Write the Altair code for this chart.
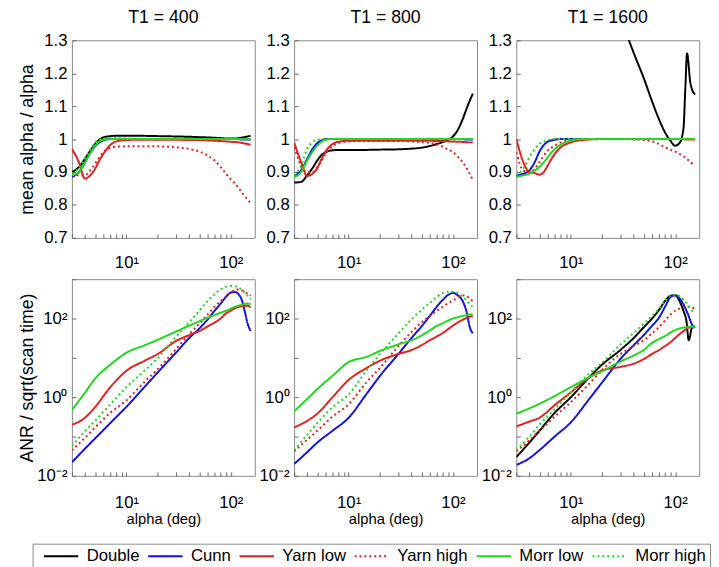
import altair as alt
import pandas as pd

FONT = "Liberation Sans"
SERIES = ["Double", "Cunn", "Yarn low", "Yarn high", "Morr low", "Morr high"]
COLORS = ["#000000", "#1111e6", "#e61e1e", "#e61e1e", "#1ed81e", "#1ed81e"]
DASHES = [[1, 0], [1, 0], [1, 0], [2, 3], [1, 0], [2, 3]]
T1_VALUES = [400, 800, 1600]

ALPHA_TOP = [3, 3.5, 4, 4.5, 5, 5.5, 6, 7, 8, 10, 13, 20, 30, 40, 50, 60, 70, 80, 90, 100, 110, 120, 125, 130, 140, 155]
ALPHA_BOT = [3, 4, 5, 7, 10, 15, 20, 30, 40, 50, 60, 70, 80, 90, 100, 110, 120, 128, 135, 145, 155]

X_TICKS = [3, 4, 5, 6, 7, 8, 9, 10, 20, 30, 40, 50, 60, 70, 80, 90, 100]
Y_TICKS_TOP = [0.7, 0.8, 0.9, 1.0, 1.1, 1.2, 1.3]
Y_TICKS_BOT = [0.01, 0.1, 1, 10, 100, 1000]

# mean alpha / alpha
MEAN_400 = {
    "Double":    [0.900, 0.915, 0.940, 0.965, 0.985, 0.998, 1.005, 1.009, 1.010, 1.010, 1.010, 1.009, 1.008, 1.007, 1.006, 1.005, 1.004, 1.003, 1.002, 1.002, 1.002, 1.003, 1.004, 1.005, 1.007, 1.010],
    "Cunn":      [0.885, 0.900, 0.930, 0.958, 0.978, 0.990, 0.996, 1.000, 1.000, 1.000, 1.000, 1.000, 1.000, 1.000, 1.000, 1.000, 1.000, 1.000, 1.000, 1.000, 1.000, 1.000, 0.999, 0.999, 0.999, 0.998],
    "Yarn low":  [0.970, 0.930, 0.880, 0.890, 0.910, 0.935, 0.955, 0.982, 0.993, 0.997, 0.998, 0.998, 0.998, 0.997, 0.997, 0.996, 0.995, 0.994, 0.993, 0.992, 0.991, 0.990, 0.989, 0.988, 0.986, 0.983],
    "Yarn high": [0.895, 0.890, 0.890, 0.905, 0.925, 0.945, 0.960, 0.973, 0.977, 0.978, 0.978, 0.978, 0.975, 0.970, 0.962, 0.950, 0.935, 0.915, 0.895, 0.878, 0.865, 0.850, 0.843, 0.835, 0.822, 0.806],
    "Morr low":  [0.890, 0.900, 0.928, 0.958, 0.980, 0.993, 0.998, 1.000, 1.000, 1.000, 1.000, 1.000, 1.000, 1.000, 1.000, 1.000, 1.000, 1.000, 1.000, 1.000, 1.000, 1.000, 1.000, 1.000, 1.000, 1.000],
    "Morr high": [0.895, 0.912, 0.940, 0.968, 0.988, 0.997, 1.001, 1.003, 1.003, 1.002, 1.001, 1.000, 1.000, 1.000, 1.000, 1.000, 1.000, 1.000, 1.000, 1.000, 1.000, 1.000, 1.000, 1.000, 1.000, 1.000],
}
MEAN_800 = {
    "Double":    [0.868, 0.870, 0.890, 0.912, 0.935, 0.952, 0.960, 0.966, 0.967, 0.967, 0.967, 0.968, 0.969, 0.971, 0.974, 0.979, 0.985, 0.991, 0.998, 1.008, 1.025, 1.050, 1.063, 1.078, 1.105, 1.138],
    "Cunn":      [0.888, 0.905, 0.940, 0.970, 0.988, 0.996, 1.000, 1.000, 1.000, 1.000, 1.000, 1.000, 1.000, 1.000, 1.000, 1.000, 1.000, 1.000, 1.000, 1.000, 1.000, 1.000, 1.000, 0.999, 0.999, 0.999],
    "Yarn low":  [0.990, 0.930, 0.888, 0.895, 0.912, 0.940, 0.962, 0.985, 0.992, 0.995, 0.995, 0.995, 0.995, 0.995, 0.995, 0.995, 0.994, 0.994, 0.993, 0.993, 0.992, 0.992, 0.991, 0.991, 0.990, 0.990],
    "Yarn high": [0.975, 0.920, 0.900, 0.900, 0.915, 0.935, 0.955, 0.978, 0.988, 0.993, 0.994, 0.994, 0.994, 0.993, 0.991, 0.988, 0.984, 0.977, 0.968, 0.960, 0.948, 0.935, 0.928, 0.920, 0.903, 0.876],
    "Morr low":  [0.885, 0.900, 0.935, 0.962, 0.980, 0.992, 0.998, 1.000, 1.000, 1.000, 1.000, 1.000, 1.000, 1.000, 1.000, 1.000, 1.000, 1.000, 1.000, 1.000, 1.000, 1.000, 1.000, 1.000, 1.000, 1.000],
    "Morr high": [0.890, 0.920, 0.970, 0.990, 0.998, 1.000, 1.000, 1.000, 1.000, 1.000, 1.000, 1.000, 1.000, 1.000, 1.000, 1.000, 1.000, 1.000, 1.000, 1.000, 1.000, 1.000, 1.000, 1.000, 1.000, 1.000],
}
MEAN_1600 = {
    "Double":    [2.600, 2.500, 2.400, 2.300, 2.250, 2.200, 2.150, 2.050, 1.980, 1.850, 1.720, 1.540, 1.370, 1.262, 1.185, 1.115, 1.060, 1.020, 0.995, 0.980, 0.988, 1.030, 1.150, 1.260, 1.170, 1.135],
    "Cunn":      [0.890, 0.895, 0.905, 0.930, 0.962, 0.982, 0.992, 0.998, 1.000, 1.000, 1.000, 1.000, 1.000, 1.000, 1.000, 1.000, 1.000, 1.000, 1.000, 1.000, 1.000, 1.000, 1.000, 1.000, 1.000, 1.000],
    "Yarn low":  [1.000, 0.930, 0.900, 0.897, 0.892, 0.900, 0.920, 0.955, 0.975, 0.990, 0.997, 1.000, 1.000, 1.000, 1.000, 1.000, 1.000, 1.000, 1.000, 1.000, 1.000, 1.000, 0.999, 0.999, 0.999, 0.999],
    "Yarn high": [0.960, 0.905, 0.900, 0.910, 0.930, 0.950, 0.965, 0.980, 0.990, 0.997, 1.000, 1.000, 1.000, 0.999, 0.997, 0.993, 0.985, 0.975, 0.968, 0.962, 0.955, 0.948, 0.944, 0.940, 0.930, 0.920],
    "Morr low":  [0.885, 0.890, 0.895, 0.905, 0.915, 0.930, 0.945, 0.970, 0.983, 0.996, 1.000, 1.000, 1.000, 1.000, 1.000, 1.000, 1.000, 1.000, 1.000, 1.000, 1.000, 1.000, 1.000, 1.000, 1.000, 1.000],
    "Morr high": [0.890, 0.910, 0.945, 0.970, 0.985, 0.993, 0.998, 1.000, 1.000, 1.000, 1.000, 1.000, 1.000, 1.000, 1.000, 1.000, 1.000, 1.000, 1.000, 1.000, 1.000, 1.000, 1.000, 1.000, 1.000, 1.000],
}

# ANR / sqrt(scan time)
ANR_400 = {
    "Cunn":      [0.022, 0.049, 0.089, 0.22, 0.57, 1.86, 4.3, 13.8, 32, 56, 95, 158, 240, 355, 457, 470, 400, 290, 170, 75, 48],
    "Yarn low":  [0.20, 0.30, 0.56, 1.8, 4.7, 8.5, 12.6, 27, 38, 48, 63, 79, 100, 135, 158, 182, 200, 205, 210, 210, 195],
    "Yarn high": [0.044, 0.093, 0.17, 0.40, 0.83, 2.5, 5.2, 17, 40, 74, 126, 200, 280, 363, 457, 537, 550, 520, 480, 430, 380],
    "Morr low":  [0.47, 1.3, 2.95, 6.7, 13.5, 21, 29, 47, 66, 85, 105, 123, 141, 158, 178, 200, 214, 224, 234, 240, 229],
    "Morr high": [0.058, 0.135, 0.25, 0.66, 1.8, 4.8, 10, 35, 80, 158, 280, 417, 550, 645, 676, 660, 600, 540, 470, 380, 310],
}
ANR_800 = {
    "Cunn":      [0.020, 0.040, 0.070, 0.14, 0.30, 1.26, 3.5, 12.6, 32, 63, 117, 200, 300, 400, 447, 400, 320, 230, 150, 60, 42],
    "Yarn low":  [0.17, 0.25, 0.38, 1.0, 2.75, 5.6, 8.5, 12.6, 15.8, 21, 28, 35, 43, 54, 66, 78, 89, 97, 104, 112, 115],
    "Yarn high": [0.042, 0.083, 0.14, 0.32, 0.66, 2.5, 5.6, 20, 45, 80, 117, 158, 200, 245, 288, 340, 380, 385, 370, 320, 270],
    "Morr low":  [0.44, 0.90, 1.6, 3.5, 7.8, 10.7, 15, 22, 28, 37, 50, 65, 76, 89, 100, 107, 115, 119, 122, 126, 126],
    "Morr high": [0.045, 0.11, 0.22, 0.56, 1.17, 5.0, 12.6, 42, 95, 166, 250, 355, 447, 480, 480, 447, 380, 330, 290, 230, 200],
}
ANR_1600 = {
    "Double":    [0.030, 0.070, 0.14, 0.40, 1.0, 3.2, 6.8, 16, 32, 60, 100, 166, 280, 380, 390, 280, 158, 89, 28, 58, 62],
    "Cunn":      [0.019, 0.028, 0.045, 0.10, 0.23, 0.90, 2.4, 9.5, 21, 38, 65, 105, 200, 350, 390, 330, 230, 160, 115, 70, 58],
    "Yarn low":  [0.18, 0.24, 0.30, 0.63, 1.33, 3.2, 4.8, 5.9, 7.1, 9.3, 12.6, 15.8, 20, 25, 32, 40, 48, 54, 59, 62, 63],
    "Yarn high": [0.042, 0.080, 0.14, 0.32, 0.75, 2.2, 5.0, 12.6, 20, 28, 42, 60, 89, 126, 158, 178, 190, 200, 200, 190, 178],
    "Morr low":  [0.38, 0.52, 0.68, 1.07, 1.8, 3.2, 4.6, 8.1, 11.5, 15.8, 24, 30, 36, 44, 51, 56, 59, 60, 62, 62, 62],
    "Morr high": [0.046, 0.10, 0.20, 0.50, 1.33, 4.0, 7.6, 22, 43, 74, 117, 178, 280, 380, 400, 370, 300, 250, 200, 158, 141],
}

TOP_BLOCKS = [MEAN_400, MEAN_800, MEAN_1600]
BOT_BLOCKS = [ANR_400, ANR_800, ANR_1600]


def panel_df(alpha, block):
    rows = []
    for s in SERIES:
        vals = block.get(s)
        if vals is None:
            continue
        for a, v in zip(alpha, vals):
            rows.append({"alpha": a, "value": v, "series": s})
    return pd.DataFrame(rows)


LEG = dict(title=None, orient="none", legendX=-40, legendY=512, direction="horizontal",
           columns=6, symbolType="M-0.2,0H6.8", symbolSize=100, symbolStrokeWidth=2,
           labelFontSize=17, labelFont=FONT, labelColor="black", strokeColor="#8a8a8a",
           fillColor="white", padding=4, columnPadding=1, labelOffset=34, labelLimit=0,
           cornerRadius=0)

color_enc = alt.Color("series:N", scale=alt.Scale(domain=SERIES, range=COLORS),
                      legend=alt.Legend(**LEG))
dash_enc = alt.StrokeDash("series:N", scale=alt.Scale(domain=SERIES, range=DASHES),
                          legend=alt.Legend(**LEG))

XLBL = "datum.value == 10 ? '10\u00b9' : (datum.value == 100 ? '10\u00b2' : '')"
YLBL_TOP = "format(datum.value, '~g')"
YLBL_BOT = ("datum.value == 0.01 ? '10\u207b\u00b2' : (datum.value == 1 ? '10\u2070' : "
            "(datum.value == 100 ? '10\u00b2' : ''))")

AX = dict(grid=False, ticks=True, tickSize=4, offset=-4, tickColor="#666666", tickWidth=1,
          domain=False, labelFont=FONT, labelFontSize=17, labelOverlap=False,
          labelColor="black", titleFont=FONT, titleFontWeight="normal", titleColor="black")

W = 186
panels = []
for i, t in enumerate(T1_VALUES):
    df = panel_df(ALPHA_TOP, TOP_BLOCKS[i])
    yax = dict(values=Y_TICKS_TOP, labelExpr=YLBL_TOP, labelPadding=5, **AX)
    if i == 0:
        yax.update(title="mean alpha / alpha", titleX=-40, titleFontSize=18)
    else:
        yax.update(title=None)
    ch = alt.Chart(df).mark_line(strokeWidth=2, clip=True, interpolate="monotone").encode(
        x=alt.X("alpha:Q", scale=alt.Scale(type="log", domain=[3, 170], nice=False),
                axis=alt.Axis(values=X_TICKS, labelExpr=XLBL, title=None, labelPadding=17, **AX)),
        y=alt.Y("value:Q", scale=alt.Scale(domain=[0.7, 1.3], nice=False, zero=False),
                axis=alt.Axis(**yax)),
        color=color_enc,
        strokeDash=dash_enc,
    ).properties(width=W, height=201,
                 title=alt.TitleParams(f"T1 = {t}", font=FONT, fontSize=18, fontWeight="normal",
                                       color="black", offset=5))
    panels.append(ch)

for i, t in enumerate(T1_VALUES):
    df = panel_df(ALPHA_BOT, BOT_BLOCKS[i])
    yax = dict(values=Y_TICKS_BOT, labelExpr=YLBL_BOT, labelPadding=5, **AX)
    if i == 0:
        yax.update(title="ANR / sqrt(scan time)", titleX=-40, titleFontSize=18)
    else:
        yax.update(title=None)
    ch = alt.Chart(df).mark_line(strokeWidth=2, clip=True, interpolate="monotone").encode(
        x=alt.X("alpha:Q", scale=alt.Scale(type="log", domain=[3, 170], nice=False),
                axis=alt.Axis(values=X_TICKS, labelExpr=XLBL, title="alpha (deg)",
                              titleFontSize=15, labelPadding=19, titlePadding=1, **AX)),
        y=alt.Y("value:Q", scale=alt.Scale(type="log", domain=[0.01, 1000], nice=False),
                axis=alt.Axis(**yax)),
        color=color_enc,
        strokeDash=dash_enc,
    ).properties(width=W, height=200)
    panels.append(ch)

chart = alt.concat(*panels, columns=3, spacing={"row": 42, "column": 40}, bounds="flush").properties(
    padding={"left": 10, "top": -5, "right": 0, "bottom": 0}
).configure_view(stroke="#8a8a8a", strokeWidth=1)

chart.save("out.html", embed_options={"renderer": "svg", "actions": False})
